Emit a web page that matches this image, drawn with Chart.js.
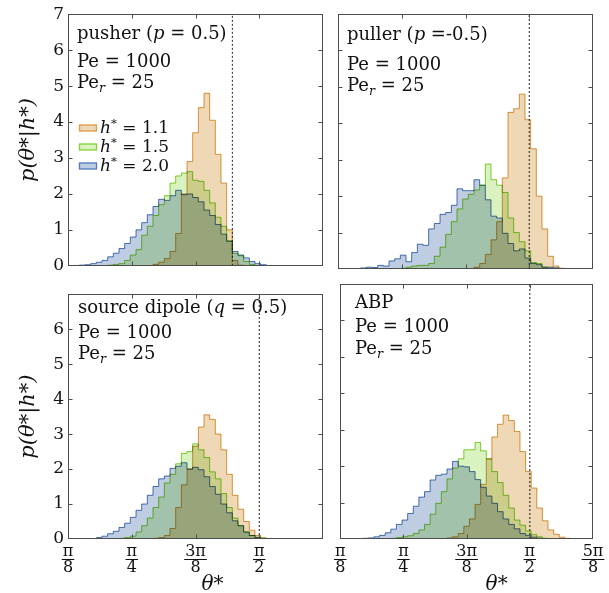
<!DOCTYPE html>
<html>
<head>
<meta charset="utf-8">
<script src="https://cdn.jsdelivr.net/npm/chart.js@4.4.0/dist/chart.umd.min.js"></script>
<style>
body { margin: 0; background: #fff; }
#wrap { position: relative; width: 609px; height: 593px; }
canvas { position: absolute; }
</style>
</head>
<body>
<div id="wrap">
<canvas id="cPusher" width="330" height="280" style="left:0;top:0"></canvas>
<canvas id="cPuller" width="279" height="280" style="left:330px;top:0"></canvas>
<canvas id="cSource" width="330" height="313" style="left:0;top:280px"></canvas>
<canvas id="cAbp" width="279" height="313" style="left:330px;top:280px"></canvas>
</div>
<script>
// histograms: 2 degree bins, each series starts at its own left edge (degrees)
var binWidth = 2;
var seriesNames = ['1.1', '1.5', '2.0'];

var pusherStart = [52.5, 36.5, 24.5];
var pusher11 = [0.04, 0.1, 0.2, 0.4, 0.9, 2.0, 2.9, 3.7, 4.4, 4.8, 4.05, 3.1, 2.3, 1.0, 0.15, 0.02];
var pusher15 = [0.02, 0.04, 0.06, 0.15, 0.3, 0.45, 0.85, 1.1, 1.4, 1.7, 1.95, 2.3, 2.5, 2.58, 2.62, 2.38, 2.35, 2.1, 1.75, 1.35, 1.1, 0.7, 0.35, 0.28, 0.12, 0.04];
var pusher20 = [0.01, 0.02, 0.03, 0.06, 0.1, 0.15, 0.25, 0.35, 0.48, 0.62, 0.8, 1.0, 1.2, 1.42, 1.65, 1.85, 1.82, 1.95, 2.1, 1.98, 2.0, 1.9, 1.78, 1.55, 1.4, 1.15, 0.88, 0.68, 0.4, 0.3, 0.22, 0.12, 0.06, 0.03, 0.01];

var pullerStart = [70.5, 44.5, 30.5];
var puller11 = [0.05, 0.15, 0.4, 0.8, 1.3, 2.5, 4.3, 4.4, 4.8, 4.1, 3.3, 2.0, 1.1, 0.35, 0.08];
var puller15 = [0.02, 0.05, 0.08, 0.1, 0.1, 0.15, 0.35, 0.6, 0.95, 1.3, 1.65, 1.92, 2.05, 2.17, 2.3, 2.88, 2.45, 2.3, 2.1, 1.4, 1.0, 0.75, 0.5, 0.18, 0.15, 0.05];
var puller20 = [0.03, 0.05, 0.04, 0.1, 0.08, 0.22, 0.28, 0.38, 0.2, 0.45, 0.68, 0.65, 1.1, 1.25, 1.5, 1.55, 1.75, 2.2, 2.15, 2.15, 2.45, 2.3, 1.9, 1.45, 1.4, 0.98, 0.7, 0.5, 0.55, 0.3, 0.15, 0.12, 0.05, 0.05, 0.03, 0.02];

var sourceStart = [52.5, 38.5, 30.5];
var source11 = [0.02, 0.04, 0.1, 0.3, 0.9, 1.55, 2.0, 2.65, 3.2, 3.55, 3.42, 3.0, 2.55, 1.85, 1.25, 0.85, 0.5, 0.25, 0.1, 0.03];
var source15 = [0.01, 0.02, 0.04, 0.08, 0.2, 0.38, 0.6, 0.9, 1.2, 1.6, 1.85, 2.15, 2.45, 2.5, 2.72, 2.55, 2.33, 1.92, 1.72, 1.3, 0.9, 0.6, 0.38, 0.2, 0.1, 0.05, 0.03, 0.01];
var source20 = [0.01, 0.04, 0.08, 0.15, 0.22, 0.33, 0.45, 0.62, 0.82, 1.0, 1.25, 1.5, 1.72, 1.8, 2.02, 2.08, 2.18, 2.0, 2.05, 1.98, 1.78, 1.5, 1.28, 1.0, 0.75, 0.52, 0.38, 0.2, 0.1, 0.04];

var abpStart = [58.5, 40.5, 28.5];
var abp11 = [0.01, 0.03, 0.06, 0.15, 0.35, 0.55, 0.95, 1.5, 2.2, 2.8, 3.15, 3.4, 3.25, 2.95, 2.4, 1.85, 1.4, 0.85, 0.5, 0.25, 0.13, 0.05, 0.02];
var abp15 = [0.02, 0.04, 0.06, 0.09, 0.15, 0.25, 0.4, 0.68, 0.98, 1.3, 1.65, 1.95, 2.2, 2.45, 2.45, 2.65, 2.42, 2.2, 1.85, 1.55, 1.2, 0.85, 0.52, 0.38, 0.22, 0.12, 0.06, 0.02];
var abp20 = [0.01, 0.02, 0.03, 0.06, 0.1, 0.17, 0.27, 0.4, 0.52, 0.7, 0.9, 1.15, 1.3, 1.62, 1.75, 1.78, 1.92, 2.13, 2.0, 1.98, 1.85, 1.63, 1.42, 1.18, 0.98, 0.75, 0.55, 0.4, 0.28, 0.15, 0.1, 0.05, 0.02];

// dashed reference line (radians) for each panel
var dashAt = [1.405, Math.PI / 2, Math.PI / 2, Math.PI / 2];

var xTickLabels = [['π', '8'], ['π', '4'], ['3π', '8'], ['π', '2'], ['5π', '8']];

var edgeColors = ['#dd9d42', '#82d232', '#4d78ba'];
var fillColors = ['#efd8b5', '#d9f2c0', '#bfcde3'];

var FONT = '"DejaVu Serif", serif';

function histPoints(start, values) {
    var pts = [{x: start * Math.PI / 180, y: 0}];
    values.forEach(function (v, i) {
        pts.push({x: (start + i * binWidth) * Math.PI / 180, y: v});
    });
    pts.push({x: (start + values.length * binWidth) * Math.PI / 180, y: 0});
    return pts;
}

function drawRich(ctx, x, y, parts, size) {
    ctx.textBaseline = 'alphabetic';
    ctx.textAlign = 'left';
    parts.forEach(function (p) {
        var fs = size, dy = 0, style = '';
        if (p[1] === 'i') style = 'italic ';
        if (p[1] === 'sub') { style = 'italic '; fs = size * 0.7; dy = size * 0.22; }
        if (p[1] === 'sup') { fs = size * 0.7; dy = -size * 0.38; }
        ctx.font = style + fs + 'px ' + FONT;
        ctx.fillText(p[0], x, y + dy);
        x += ctx.measureText(p[0]).width;
    });
}

var panelDeco = {
    id: 'panelDeco',
    beforeDraw: function (chart) {
        chart.ctx.globalCompositeOperation = 'multiply';
    },
    afterDatasetsDraw: function (chart) {
        chart.ctx.globalCompositeOperation = 'source-over';
    },
    afterDraw: function (chart, args, opts) {
        var ctx = chart.ctx, a = chart.chartArea;
        var xs = chart.scales.x, ys = chart.scales.y;
        ctx.save();
        ctx.globalCompositeOperation = 'source-over';
        ctx.strokeStyle = '#4d4d4d';
        ctx.lineWidth = 1;
        var L = Math.round(a.left) + 0.5, R = Math.round(a.right) - 0.5;
        var T = Math.round(a.top) + 0.5, B = Math.round(a.bottom) - 0.5;
        ctx.strokeRect(L, T, R - L, B - T);
        ctx.beginPath();
        for (var v = 1; v <= 6; v++) {
            var py = Math.round(ys.getPixelForValue(v)) + 0.5;
            ctx.moveTo(L, py); ctx.lineTo(L + 4, py);
            ctx.moveTo(R, py); ctx.lineTo(R - 4, py);
        }
        for (var k = 2; k <= 4; k++) {
            var px = Math.round(xs.getPixelForValue(k * Math.PI / 8)) + 0.5;
            ctx.moveTo(px, B); ctx.lineTo(px, B - 4);
            ctx.moveTo(px, T); ctx.lineTo(px, T + 4);
        }
        ctx.stroke();

        // fraction bars under the x tick labels, and the axis title
        if (opts.fractions) {
            ctx.font = '16px ' + FONT;
            ctx.strokeStyle = '#111';
            ctx.lineWidth = 1.2;
            ctx.beginPath();
            xs.ticks.forEach(function (t, i) {
                if (i >= opts.fractions) return;
                var lab = xTickLabels[i];
                var w = Math.max(ctx.measureText(lab[0]).width, ctx.measureText(lab[1]).width) + 2;
                var px = xs.getPixelForValue(t.value);
                ctx.moveTo(px - w / 2, B + 21);
                ctx.lineTo(px + w / 2, B + 21);
            });
            ctx.stroke();
            ctx.fillStyle = '#111';
            ctx.font = 'italic 20px ' + FONT;
            ctx.textAlign = 'center';
            ctx.textBaseline = 'alphabetic';
            ctx.fillText('θ*', (a.left + a.right) / 2 + opts.titleShift, chart.height - 3);
        }

        ctx.fillStyle = '#111';
        opts.lines.forEach(function (ln) {
            drawRich(ctx, ln.x, ln.y, ln.parts, 18);
        });

        if (opts.legend) {
            seriesNames.forEach(function (name, i) {
                var cy = 128 + i * 19;
                ctx.fillStyle = fillColors[i];
                ctx.fillRect(79.5, cy - 3, 17, 6);
                ctx.strokeStyle = edgeColors[i];
                ctx.lineWidth = 1.3;
                ctx.strokeRect(79.5, cy - 3, 17, 6);
                ctx.fillStyle = '#111';
                drawRich(ctx, 100, cy + 5, [['h', 'i'], ['*', 'sup'], [' = ' + name, 'r']], 17);
            });
        }
        ctx.restore();
    }
};

function makePanel(id, starts, series, dash, cfg) {
    var datasets = series.map(function (vals, i) {
        return {
            label: 'h* = ' + seriesNames[i],
            data: histPoints(starts[i], vals),
            stepped: true,
            borderColor: edgeColors[i],
            backgroundColor: fillColors[i],
            borderWidth: 1,
            fill: 'origin',
            pointRadius: 0
        };
    });
    datasets.push({
        label: 'ref',
        data: [{x: dash, y: 0}, {x: dash, y: 7}],
        borderColor: '#222',
        borderWidth: 1,
        borderDash: [2, 2],
        fill: false,
        pointRadius: 0
    });
    return new Chart(document.getElementById(id), {
        type: 'line',
        data: {datasets: datasets},
        options: {
            responsive: false,
            animation: false,
            devicePixelRatio: 1,
            layout: {padding: cfg.padding},
            plugins: {
                legend: {display: false},
                tooltip: {enabled: false},
                panelDeco: {lines: cfg.lines, legend: cfg.legend, fractions: cfg.fractions, titleShift: cfg.titleShift}
            },
            scales: {
                x: {
                    type: 'linear',
                    min: Math.PI / 8,
                    max: 5 * Math.PI / 8,
                    grid: {display: false, drawTicks: false},
                    border: {display: false},
                    afterBuildTicks: function (s) {
                        s.ticks = [1, 2, 3, 4, 5].map(function (k) { return {value: k * Math.PI / 8}; });
                    },
                    ticks: {
                        display: cfg.fractions > 0,
                        autoSkip: false,
                        maxRotation: 0,
                        padding: 5,
                        color: '#111',
                        font: {family: FONT, size: 16, lineHeight: 0.98},
                        callback: function (v, i) { return i < cfg.fractions ? xTickLabels[i] : ''; }
                    },
                    afterFit: function (s) { s.height = cfg.fractions > 0 ? 54 : 0; }
                },
                y: {
                    min: 0,
                    max: 7,
                    grid: {display: false, drawTicks: false},
                    border: {display: false},
                    ticks: {
                        display: cfg.yLabels,
                        stepSize: 1,
                        padding: 4,
                        color: '#111',
                        font: {family: FONT, size: 17},
                        callback: function (v) { return (v === 7 && !cfg.top7) ? '' : v; }
                    },
                    title: {
                        display: cfg.yLabels,
                        text: 'p(θ*|h*)',
                        color: '#111',
                        font: {family: FONT, style: 'italic', size: 21, lineHeight: 1},
                        padding: {top: 18, bottom: 0}
                    },
                    afterFit: function (s) { s.width = cfg.yLabels ? 68 : 8; }
                }
            }
        },
        plugins: [panelDeco]
    });
}

var peLine = [['Pe = 1000', 'r']];
var perLine = [['Pe', 'r'], ['r', 'sub'], [' = 25', 'r']];

makePanel('cPusher', pusherStart, [pusher11, pusher15, pusher20], dashAt[0], {
    padding: {top: 14, right: 7, bottom: 11, left: 0},
    yLabels: true, top7: true, fractions: 0, legend: true, titleShift: 0,
    lines: [
        {x: 77, y: 39, parts: [['pusher (', 'r'], ['p', 'i'], [' = 0.5)', 'r']]},
        {x: 77, y: 67, parts: peLine},
        {x: 77, y: 88, parts: perLine}
    ]
});
makePanel('cPuller', pullerStart, [puller11, puller15, puller20], dashAt[1], {
    padding: {top: 14, right: 16, bottom: 11, left: 0},
    yLabels: false, top7: false, fractions: 0, legend: false, titleShift: 0,
    lines: [
        {x: 17, y: 40, parts: [['puller (', 'r'], ['p', 'i'], [' =-0.5)', 'r']]},
        {x: 17, y: 70, parts: peLine},
        {x: 17, y: 91, parts: perLine}
    ]
});
makePanel('cSource', sourceStart, [source11, source15, source20], dashAt[2], {
    padding: {top: 4, right: 7, bottom: 0, left: 0},
    yLabels: true, top7: false, fractions: 4, legend: false, titleShift: 17,
    lines: [
        {x: 78, y: 33, parts: [['source dipole (', 'r'], ['q', 'i'], [' = 0.5)', 'r']]},
        {x: 78, y: 58, parts: peLine},
        {x: 78, y: 79, parts: perLine}
    ]
});
makePanel('cAbp', abpStart, [abp11, abp15, abp20], dashAt[3], {
    padding: {top: 4, right: 16, bottom: 0, left: 0},
    yLabels: false, top7: false, fractions: 5, legend: false, titleShift: 30,
    lines: [
        {x: 25, y: 28, parts: [['ABP', 'r']]},
        {x: 25, y: 52, parts: peLine},
        {x: 25, y: 74, parts: perLine}
    ]
});
</script>
</body>
</html>
